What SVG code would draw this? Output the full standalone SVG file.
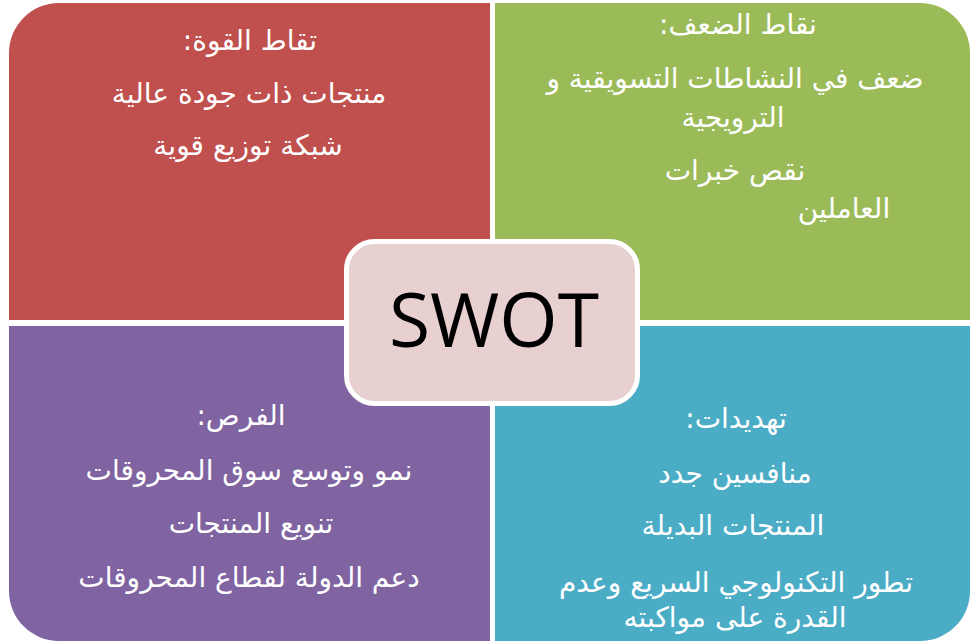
<svg xmlns="http://www.w3.org/2000/svg" width="971" height="643" viewBox="0 0 971 643">
  <style>
    .ar { font-family: "DejaVu Sans", "Liberation Sans", sans-serif; font-size: 28px; fill: #ffffff; text-anchor: middle; direction: rtl; }
    .core { font-family: "Open Sans", "Liberation Sans", sans-serif; font-size: 75px; fill: #000000; text-anchor: middle; }
  </style>
  <rect width="971" height="643" fill="#ffffff"/>

  <!-- Strengths: top left -->
  <g id="strengths">
    <path d="M9,320 V53 A50,50 0 0 1 59,3 H490 V320 Z" fill="#C0504D"/>
    <text class="ar" x="250" y="50">تقاط القوة:</text>
    <text class="ar" x="249" y="103">منتجات ذات جودة عالية</text>
    <text class="ar" x="248" y="155">شبكة توزيع قوية</text>
  </g>

  <!-- Weaknesses: top right -->
  <g id="weaknesses">
    <path d="M495,3 H920 A50,50 0 0 1 970,53 V320 H495 Z" fill="#9BBB59"/>
    <text class="ar" x="738" y="34">نقاط الضعف:</text>
    <text class="ar" x="735" y="88">ضعف في النشاطات التسويقية و</text>
    <text class="ar" x="733" y="127">الترويجية</text>
    <text class="ar" x="735" y="180">نقص خبرات</text>
    <text class="ar" x="844" y="218">العاملين</text>
  </g>

  <!-- Opportunities: bottom left -->
  <g id="opportunities">
    <path d="M9,326 H490 V641 H59 A50,50 0 0 1 9,591 Z" fill="#8064A2"/>
    <text class="ar" x="241" y="425">الفرص:</text>
    <text class="ar" x="249" y="480">نمو وتوسع سوق المحروقات</text>
    <text class="ar" x="251" y="533">تنويع المنتجات</text>
    <text class="ar" x="249" y="587">دعم الدولة لقطاع المحروقات</text>
  </g>

  <!-- Threats: bottom right -->
  <g id="threats">
    <path d="M495,326 H970 V591 A50,50 0 0 1 920,641 H495 Z" fill="#4BACC6"/>
    <text class="ar" x="736" y="428">تهديدات:</text>
    <text class="ar" x="735" y="483">منافسين جدد</text>
    <text class="ar" x="733" y="535">المنتجات البديلة</text>
    <text class="ar" x="736" y="592">تطور التكنولوجي السريع وعدم</text>
    <text class="ar" x="735" y="627">القدرة على مواكبته</text>
  </g>

  <!-- Centre label -->
  <g id="swot">
    <rect x="346.5" y="241.5" width="291" height="162" rx="28" fill="#E8D0D1" stroke="#ffffff" stroke-width="5"/>
    <text class="core" x="494" y="347">SWOT</text>
  </g>
</svg>
